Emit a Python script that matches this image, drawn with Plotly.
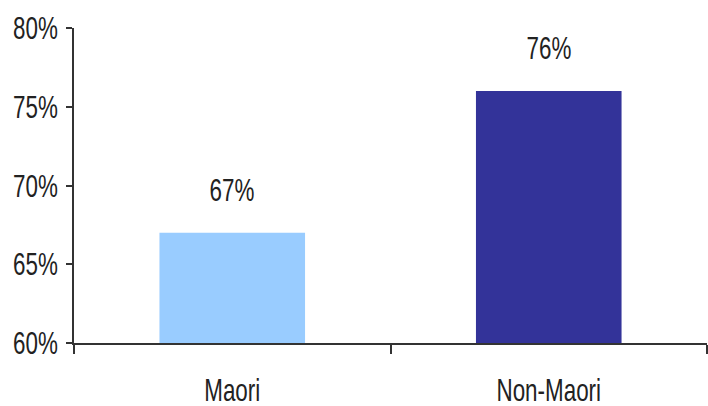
import plotly.graph_objects as go

# Share of each group, in percent
groups = ["Maori", "Non-Maori"]
shares = [67, 76]
bar_colors = ["#99CCFF", "#333399"]
y_ticks = [60, 65, 70, 75, 80]
y_tick_labels = ["60%", "65%", "70%", "75%", "80%"]

font_family = "Liberation Sans, Arial, sans-serif"
font_size = 32
text_color = "#222222"
axis_color = "#333333"

fig = go.Figure(
    go.Bar(
        x=groups,
        y=shares,
        marker=dict(color=bar_colors, line=dict(width=0)),
        hoverinfo="skip",
    )
)

# Value labels above each bar
for g, v in zip(groups, shares):
    fig.add_annotation(
        x=g, y=v, text=f"{v}%", showarrow=False,
        yshift=43, font=dict(family=font_family, size=font_size, color=text_color),
    )

fig.update_layout(
    width=708, height=406,
    margin=dict(l=74, r=1, t=28, b=63),
    paper_bgcolor="white", plot_bgcolor="white",
    bargap=0.54,
    showlegend=False,
    font=dict(family=font_family, size=font_size, color=text_color),
)

fig.update_yaxes(
    range=[60, 80], tickvals=y_ticks, ticktext=y_tick_labels,
    showgrid=False, zeroline=False, automargin=False,
    showline=True, linecolor=axis_color, linewidth=1.5,
    ticks="outside", ticklen=6, tickwidth=1.5, tickcolor=axis_color,
    ticklabelstandoff=2,
)
fig.update_xaxes(
    showgrid=False, zeroline=False, automargin=False,
    showline=True, linecolor=axis_color, linewidth=1.5,
    ticks="outside", ticklen=9, tickwidth=1.5, tickcolor=axis_color,
    tickson="boundaries",
    ticklabelstandoff=18,
)

# Narrow lettering: compress every label horizontally about its anchor point
condense_js = """
(function () {
  var gd = document.getElementById('{plot_id}');
  var k = 0.70;
  function condense() {
    var nodes = gd.querySelectorAll('.xtick text, .ytick text, .annotation-text');
    nodes.forEach(function (t) {
      if (!t.hasAttribute('data-base-tf')) {
        t.setAttribute('data-base-tf', t.getAttribute('transform') || '');
      }
      var x = parseFloat(t.getAttribute('x')) || 0;
      var y = parseFloat(t.getAttribute('y')) || 0;
      t.setAttribute('transform', t.getAttribute('data-base-tf') +
        ' translate(' + x + ',' + y + ') scale(' + k + ',1) translate(' + (-x) + ',' + (-y) + ')');
    });
  }
  condense();
  gd.on('plotly_afterplot', condense);
})();
"""

fig.write_html("out.html", post_script=condense_js)
